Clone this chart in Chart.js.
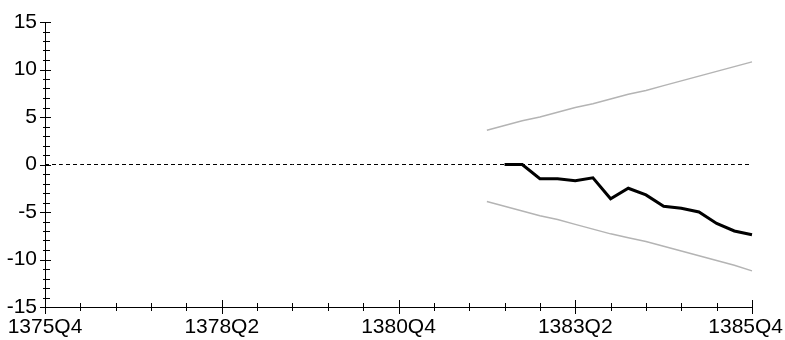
<!DOCTYPE html>
<html>
<head>
<meta charset="utf-8">
<script src="https://cdn.jsdelivr.net/npm/chart.js@4/dist/chart.umd.min.js"></script>
<style>
    html, body { margin: 0; padding: 0; background: #fff; }
    #wrap { width: 785px; height: 340px; position: relative; }
</style>
</head>
<body>
<div id="wrap"><canvas id="fcChart"></canvas></div>
<script>
// ---- Data ----
const QUARTERS = [
    '1375Q4',
    '1376Q1', '1376Q2', '1376Q3', '1376Q4',
    '1377Q1', '1377Q2', '1377Q3', '1377Q4',
    '1378Q1', '1378Q2', '1378Q3', '1378Q4',
    '1379Q1', '1379Q2', '1379Q3', '1379Q4',
    '1380Q1', '1380Q2', '1380Q3', '1380Q4',
    '1381Q1', '1381Q2', '1381Q3', '1381Q4',
    '1382Q1', '1382Q2', '1382Q3', '1382Q4',
    '1383Q1', '1383Q2', '1383Q3', '1383Q4',
    '1384Q1', '1384Q2', '1384Q3', '1384Q4',
    '1385Q1', '1385Q2', '1385Q3', '1385Q4'
];
const LABELED_QUARTERS = ['1375Q4', '1378Q2', '1380Q4', '1383Q2', '1385Q4'];

// forecast path starts at 1382Q2, bands at 1382Q1
const FORECAST_START = '1382Q2';
const forecast = [0.0, 0.0, -1.5, -1.5, -1.7, -1.4, -3.6, -2.5, -3.2, -4.4, -4.6, -5.0, -6.2, -7.0, -7.4];

const BAND_START = '1382Q1';
const upperBand = [3.6, 4.1, 4.6, 5.0, 5.5, 6.0, 6.4, 6.9, 7.4, 7.8, 8.3, 8.8, 9.3, 9.8, 10.3, 10.8];
const lowerBand = [-3.9, -4.4, -4.9, -5.4, -5.8, -6.3, -6.8, -7.3, -7.7, -8.1, -8.6, -9.1, -9.6, -10.1, -10.6, -11.2];

const Y_MIN = -15, Y_MAX = 15;
const Y_LABEL_STEP = 5;

const padTo = (startLabel, vals) => {
    const i = QUARTERS.indexOf(startLabel);
    return Array(i).fill(null).concat(vals);
};

const FONT = { family: "'Liberation Sans Narrow', 'Arial Narrow', 'Liberation Sans', sans-serif", size: 21, lineHeight: 1 };

// ---- Axis lines, crossing tick marks, x labels kept inside the canvas ----
const axisTicks = {
    id: 'axisTicks',
    afterDraw(chart) {
        const { ctx, chartArea: a, scales: { x, y } } = chart;
        ctx.save();
        ctx.strokeStyle = '#000';
        ctx.lineWidth = 1;
        ctx.beginPath();
        ctx.moveTo(a.left + 0.5, a.top);
        ctx.lineTo(a.left + 0.5, a.bottom + 0.5);
        ctx.lineTo(a.right, a.bottom + 0.5);
        // y ticks every unit, longer at labelled values
        for (let v = Y_MIN; v <= Y_MAX; v++) {
            const py = Math.round(y.getPixelForValue(v)) + 0.5;
            const major = v % Y_LABEL_STEP === 0;
            ctx.moveTo(a.left - (major ? 5 : 2), py);
            ctx.lineTo(a.left + (major ? 6 : 5), py);
        }
        // x ticks every 2 quarters
        QUARTERS.forEach((q, i) => {
            if (i % 2) return;
            const px = Math.round(x.getPixelForValue(i)) + 0.5;
            const major = LABELED_QUARTERS.includes(q);
            ctx.moveTo(px, a.bottom - (major ? 7 : 4));
            ctx.lineTo(px, a.bottom + (major ? 7 : 4));
        });
        ctx.stroke();

        // x labels
        ctx.fillStyle = '#000';
        ctx.font = `${FONT.size}px ${FONT.family}`;
        ctx.textAlign = 'center';
        ctx.textBaseline = 'top';
        LABELED_QUARTERS.forEach(q => {
            const w = ctx.measureText(q).width;
            let px = x.getPixelForValue(QUARTERS.indexOf(q));
            px = Math.min(Math.max(px, w / 2 + 2), chart.width - w / 2 - 2);
            ctx.fillText(q, px, a.bottom + 10);
        });
        ctx.restore();
    }
};

new Chart(document.getElementById('fcChart'), {
    type: 'line',
    data: {
        labels: QUARTERS,
        datasets: [
            {
                label: 'zero', data: QUARTERS.map(() => 0),
                borderColor: '#000', borderWidth: 1, borderDash: [4, 3], pointRadius: 0
            },
            {
                label: 'upper', data: padTo(BAND_START, upperBand),
                borderColor: '#b4b4b4', borderWidth: 1.5, pointRadius: 0
            },
            {
                label: 'lower', data: padTo(BAND_START, lowerBand),
                borderColor: '#b4b4b4', borderWidth: 1.5, pointRadius: 0
            },
            {
                label: 'forecast', data: padTo(FORECAST_START, forecast),
                borderColor: '#000', borderWidth: 3, pointRadius: 0
            }
        ]
    },
    options: {
        responsive: true,
        maintainAspectRatio: false,
        animation: false,
        layout: { padding: { left: 0, top: 22, right: 33, bottom: 0 } },
        plugins: { legend: { display: false }, tooltip: { enabled: false } },
        scales: {
            x: {
                type: 'category',
                offset: false,
                grid: { display: false, drawTicks: false },
                border: { display: false },
                ticks: { display: false, autoSkip: false },
                afterFit: s => { s.height = 33; s.paddingLeft = 0; s.paddingRight = 0; }
            },
            y: {
                min: Y_MIN, max: Y_MAX,
                grid: { display: false, drawTicks: false },
                border: { display: false },
                ticks: {
                    stepSize: Y_LABEL_STEP, padding: 8, color: '#000', font: FONT
                },
                afterFit: s => { s.width = 45; s.paddingTop = 0; s.paddingBottom = 0; }
            }
        }
    },
    plugins: [axisTicks]
});
</script>
</body>
</html>
